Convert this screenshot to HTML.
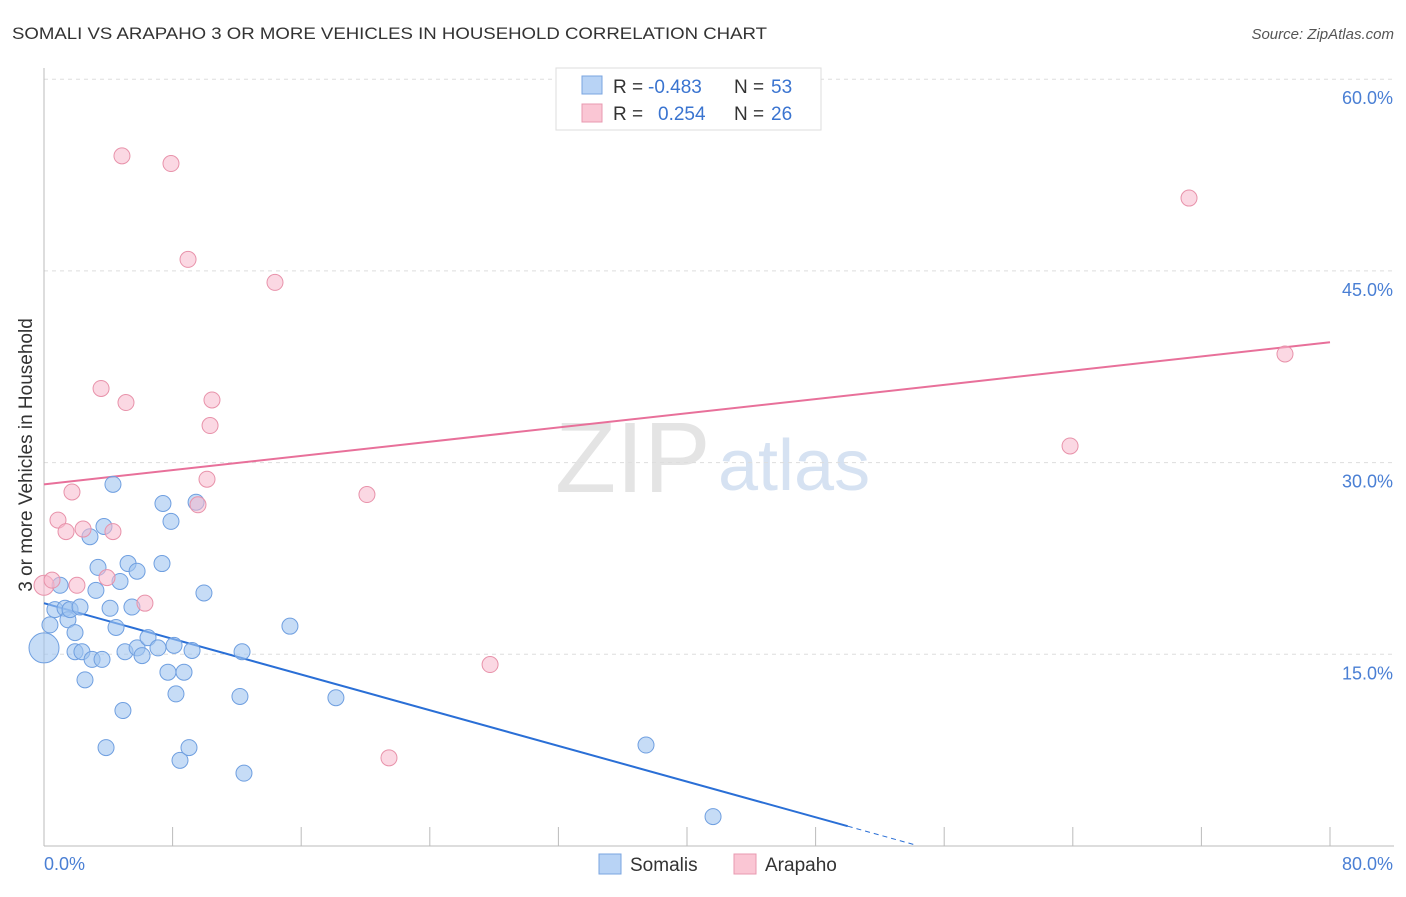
<!DOCTYPE html>
<html><head><meta charset="utf-8"><style>
body{margin:0;background:#fff;font-family:"Liberation Sans",sans-serif}
svg text{font-family:"Liberation Sans",sans-serif}
</style></head><body>
<svg width="1406" height="892" xmlns="http://www.w3.org/2000/svg">
<text x="12" y="39" font-size="17" fill="#333" textLength="755" lengthAdjust="spacingAndGlyphs">SOMALI VS ARAPAHO 3 OR MORE VEHICLES IN HOUSEHOLD CORRELATION CHART</text>
<text x="1394" y="39" font-size="15" fill="#555" font-style="italic" text-anchor="end">Source: ZipAtlas.com</text>
<text x="555" y="492" font-size="100" fill="#e4e4e4" font-family="Liberation Serif">ZIP</text>
<text x="718" y="490" font-size="72" fill="#d6e2f2">atlas</text>
<g id="grid"></g>
<g id="axes"></g>
<g id="lines"></g>
<g id="points"></g>
<text x="32" y="455" font-size="19" fill="#333" text-anchor="middle" transform="rotate(-90 32 455)">3 or more Vehicles in Household</text>
<g>
<rect x="556" y="68" width="265" height="62" fill="#fff" stroke="#ddd"/>
<rect x="582" y="76" width="20" height="18" fill="#b8d3f5" stroke="#7aa5e0"/>
<text x="613" y="93" font-size="19" fill="#333">R =</text>
<text x="648" y="93" font-size="19" fill="#3a74d0">-0.483</text>
<text x="734" y="93" font-size="19" fill="#333">N =</text>
<text x="771" y="93" font-size="19" fill="#3a74d0">53</text>
<rect x="582" y="104" width="20" height="18" fill="#fac6d4" stroke="#e899b0"/>
<text x="613" y="120" font-size="19" fill="#333">R =</text>
<text x="658" y="120" font-size="19" fill="#3a74d0">0.254</text>
<text x="734" y="120" font-size="19" fill="#333">N =</text>
<text x="771" y="120" font-size="19" fill="#3a74d0">26</text>
</g>
<g>
<rect x="599" y="854" width="22" height="20" fill="#b8d3f5" stroke="#7aa5e0"/>
<text x="630" y="871" font-size="19" fill="#333">Somalis</text>
<rect x="734" y="854" width="22" height="20" fill="#fac6d4" stroke="#e899b0"/>
<text x="765" y="871" font-size="19" fill="#333">Arapaho</text>
</g>
</svg>
<script>
const yTicks=[15,30,45,60];
const yTickLabels=["15.0%","30.0%","45.0%","60.0%"];
const xTickCount=10;
const somaliX=[0,0.37,0.68,1.0,1.31,1.49,1.62,1.93,1.93,2.24,2.36,2.55,2.86,2.99,3.23,3.36,3.61,3.73,3.86,4.11,4.29,4.48,4.73,4.91,5.04,5.23,5.47,5.79,5.79,6.10,6.47,7.09,7.34,7.40,7.71,7.90,8.09,8.21,8.46,8.71,9.02,9.21,9.46,9.95,12.19,12.32,12.44,15.30,18.16,37.45,41.62];
const somaliY=[15.5,17.3,18.5,20.4,18.6,17.7,18.5,16.7,15.2,18.7,15.2,13.0,24.2,14.6,20.0,21.8,14.6,25.0,7.7,18.6,28.3,17.1,20.7,10.6,15.2,22.1,18.7,21.5,15.5,14.9,16.3,15.5,22.1,26.8,13.6,25.4,15.7,11.9,6.7,13.6,7.7,15.3,26.9,19.8,11.7,15.2,5.7,17.2,11.6,7.9,2.3];
const arapahoX=[0,0.5,0.87,1.37,1.74,2.05,2.43,3.55,3.92,4.29,4.85,5.10,6.28,7.90,8.96,9.58,10.14,10.33,10.45,14.37,20.09,21.46,27.75,63.83,71.23,77.20];
const arapahoY=[20.4,20.8,25.5,24.6,27.7,20.4,24.8,35.8,21.0,24.6,54.0,34.7,19.0,53.4,45.9,26.7,28.7,32.9,34.9,44.1,27.5,6.9,14.2,31.3,50.7,38.5];
const somaliTrend=[19.0,-0.349];
const arapahoTrend=[28.3,0.139];
const NS="http://www.w3.org/2000/svg";
const X=v=>44+v*16.075, Y=v=>846-v*12.78;
function mk(t,a,p){const e=document.createElementNS(NS,t);for(const k in a)e.setAttribute(k,a[k]);document.getElementById(p).appendChild(e);return e;}
yTicks.forEach((t,i)=>{
 const g=mk('line',{x1:44,x2:1394,y1:Y(t),y2:Y(t),stroke:'#ddd','stroke-dasharray':'4,4'},'grid');
 
 
 const l=mk('text',{x:1393,y:Y(t)+25,'font-size':18,fill:'#4a7fd4','text-anchor':'end'},'axes');
 l.textContent=yTickLabels[i];
 
 
});
const ya=mk('line',{x1:44,x2:44,y1:68,y2:846,stroke:'#bbb'},'axes');


const xa=mk('line',{x1:44,x2:1394,y1:846,y2:846,stroke:'#bbb'},'axes');


for(let i=0;i<=xTickCount;i++){
 const t=mk('line',{x1:X(i*8),x2:X(i*8),y1:827,y2:846,stroke:'#bbb'},'axes');
 
 
}
const x0=mk('text',{x:44,y:870,'font-size':18,fill:'#4a7fd4'},'axes');x0.textContent='0.0%';


const x1=mk('text',{x:1393,y:870,'font-size':18,fill:'#4a7fd4','text-anchor':'end'},'axes');x1.textContent='80.0%';


somaliX.forEach((x,i)=>{
 const c=mk('circle',{cx:X(x),cy:Y(somaliY[i]),r:i===0?15:8,fill:'rgba(160,196,240,0.6)',stroke:'#6f9fe0','stroke-width':1},'points');
 
 
});
arapahoX.forEach((x,i)=>{
 const c=mk('circle',{cx:X(x),cy:Y(arapahoY[i]),r:i===0?10:8,fill:'rgba(248,184,204,0.55)',stroke:'#e892aa','stroke-width':1},'points');
 
 
});
const sb=mk('line',{x1:X(0),y1:Y(somaliTrend[0]),x2:X(50),y2:Y(somaliTrend[0]+somaliTrend[1]*50),stroke:'#2a6fd6','stroke-width':2},'lines');


const sd=mk('line',{x1:X(50),y1:Y(somaliTrend[0]+somaliTrend[1]*50),x2:X(54.2),y2:Y(somaliTrend[0]+somaliTrend[1]*54.2),stroke:'#2a6fd6','stroke-width':1,'stroke-dasharray':'5,4'},'lines');


const pl=mk('line',{x1:X(0),y1:Y(arapahoTrend[0]),x2:X(80),y2:Y(arapahoTrend[0]+arapahoTrend[1]*80),stroke:'#e8709a','stroke-width':2},'lines');


</script>
</body></html>
